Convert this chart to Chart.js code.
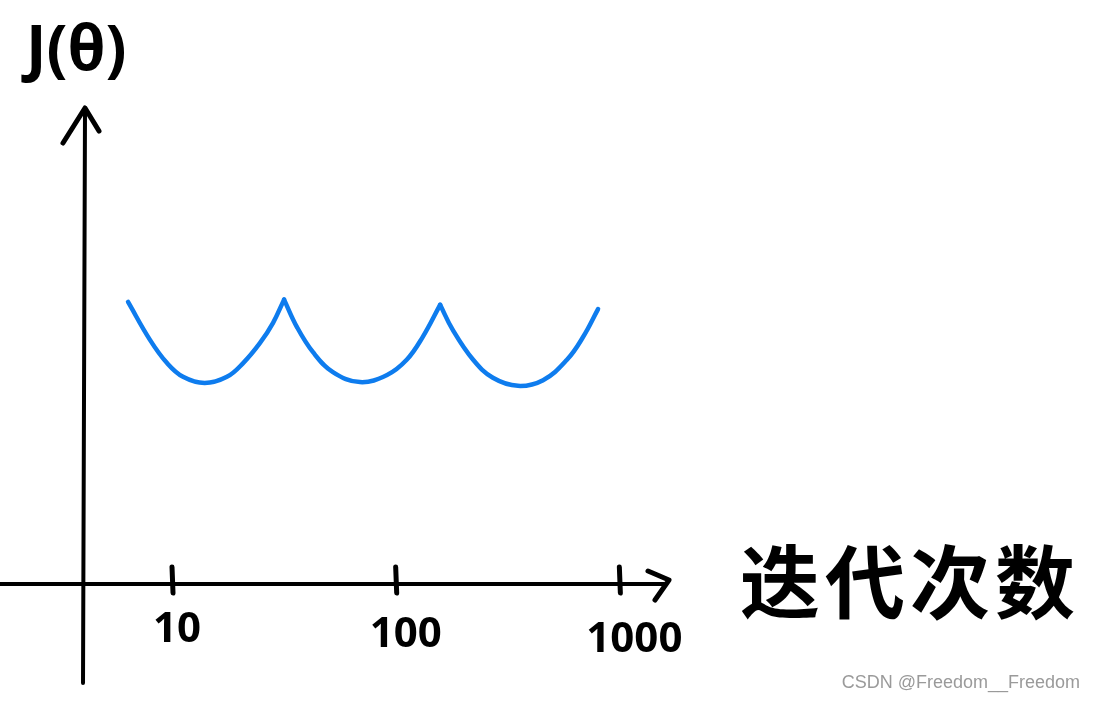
<!DOCTYPE html>
<html>
<head>
<meta charset="utf-8">
<title>J(θ) vs 迭代次数</title>
<script src="https://cdn.jsdelivr.net/npm/chart.js@4.4.1/dist/chart.umd.min.js"></script>
<style>
  html, body { margin: 0; padding: 0; background: #fff; }
  #wrap { width: 1096px; height: 701px; }
</style>
</head>
<body>
<div id="wrap"><canvas id="myChart" width="1096" height="701"></canvas></div>
<script>
// iteration counts (log axis) and cost values
const iterations = [6.36, 7.97, 9.50, 11.2, 14.0, 17.6, 20.8, 24.7, 28.3, 31.7,
                    36.2, 42.7, 52.4, 69.2, 91.5, 112, 132, 158,
                    180, 222, 272, 352, 456, 583, 688, 803];
const cost = [5.95, 5.15, 4.66, 4.37, 4.24, 4.37, 4.66, 5.08, 5.51, 6.0,
              5.42, 4.89, 4.47, 4.26, 4.41, 4.73, 5.21, 5.89,
              5.36, 4.73, 4.35, 4.18, 4.30, 4.73, 5.21, 5.80];
// the curve restarts (sharp corner) at these indexes
const cusps = [9, 17];

const tickValues = [10, 100, 1000];
const tickLabels = ['10', '100', '1000'];
const yTitle = 'J(θ)';
const xTitle = '迭代次数';
const watermark = 'CSDN @Freedom__Freedom';

// split the points into arcs, each arc is its own dataset so the peaks stay pointy
let arcs = [];
let start = 0;
cusps.concat([iterations.length - 1]).forEach((end) => {
    let pts = [];
    for (let k = start; k <= end; k++) pts.push({ x: iterations[k], y: cost[k] });
    arcs.push(pts);
    start = end;
});

const datasets = arcs.map((pts) => ({
    data: pts,
    borderColor: 'rgb(14,124,238)',
    borderWidth: 4.5,
    borderCapStyle: 'round',
    borderJoinStyle: 'round',
    pointRadius: 0,
    tension: 0.4,
    fill: false
}));

// hand drawn looking axes, ticks and labels
const sketchAxes = {
    id: 'sketchAxes',
    afterDraw(chart) {
        const ctx = chart.ctx;
        const xs = chart.scales.x;
        const ys = chart.scales.y;
        const ox = xs.getPixelForValue(xs.min);
        const oy = ys.getPixelForValue(0);
        const top = ys.getPixelForValue(ys.max);
        const right = xs.getPixelForValue(xs.max);

        ctx.save();
        ctx.strokeStyle = '#000';
        ctx.lineCap = 'round';
        ctx.lineJoin = 'round';

        // y axis with arrow
        ctx.lineWidth = 4;
        ctx.beginPath();
        ctx.moveTo(ox, 683);
        ctx.lineTo(ox + 2, top);
        ctx.stroke();
        ctx.lineWidth = 5;
        ctx.beginPath();
        ctx.moveTo(ox - 20, top + 33);
        ctx.lineTo(ox + 2, top - 2);
        ctx.lineTo(ox + 16, top + 21);
        ctx.stroke();

        // x axis with arrow
        ctx.lineWidth = 4;
        ctx.beginPath();
        ctx.moveTo(0, oy);
        ctx.lineTo(right - 4, oy);
        ctx.stroke();
        ctx.lineWidth = 5;
        ctx.beginPath();
        ctx.moveTo(right - 20, oy - 13);
        ctx.lineTo(right + 1, oy - 4);
        ctx.lineTo(right - 13, oy + 16);
        ctx.stroke();

        // tick marks + labels
        ctx.fillStyle = '#000';
        ctx.textAlign = 'center';
        ctx.textBaseline = 'middle';
        ctx.font = 'bold 42px "Noto Sans"';
        const labelShift = [5, 10, 15];
        tickValues.forEach((v, n) => {
            const px = xs.getPixelForValue(v);
            ctx.lineWidth = 5;
            ctx.beginPath();
            ctx.moveTo(px, oy - 17);
            ctx.lineTo(px + 1, oy + 9);
            ctx.stroke();
            ctx.fillText(tickLabels[n], px + labelShift[n], oy + 46 + n * 5);
        });

        // titles
        ctx.textAlign = 'left';
        ctx.font = 'bold 62px "Noto Sans"';
        ctx.fillText(yTitle, 26, 52);
        ctx.font = 'bold 80px "Noto Sans CJK SC"';
        ctx.letterSpacing = '5px';
        ctx.fillText(xTitle, 740, 582);
        ctx.letterSpacing = '0px';

        // watermark
        ctx.font = '18px "Liberation Sans"';
        ctx.fillStyle = '#9a9a9a';
        ctx.textAlign = 'right';
        ctx.fillText(watermark, 1080, 683);
        ctx.restore();
    }
};

const config = {
    type: 'line',
    data: { datasets: datasets },
    options: {
        responsive: false,
        animation: false,
        layout: { padding: { left: 83, right: 428, top: 110, bottom: 117 } },
        plugins: { legend: { display: false }, tooltip: { enabled: false } },
        scales: {
            x: { type: 'logarithmic', min: 4, max: 1650, display: false },
            y: { type: 'linear', min: 0, max: 10, display: false }
        }
    },
    plugins: [sketchAxes]
};

const myChart = new Chart(document.getElementById('myChart'), config);
</script>
</body>
</html>
